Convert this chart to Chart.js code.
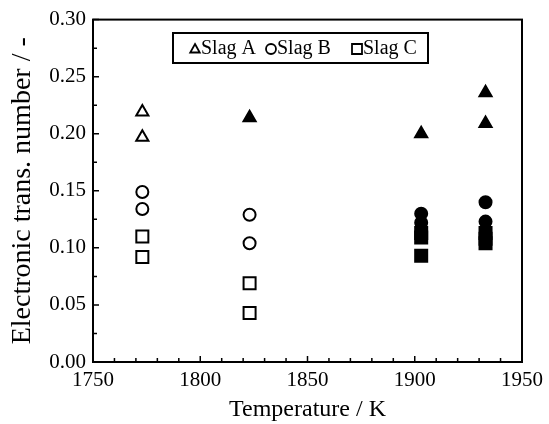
<!DOCTYPE html>
<html>
<head>
<meta charset="utf-8">
<script src="https://cdn.jsdelivr.net/npm/chart.js@4/dist/chart.umd.min.js"></script>
<style>
  html, body { margin: 0; padding: 0; background: #fff; }
</style>
</head>
<body>
<canvas id="chart" width="549" height="424"></canvas>
<script>
// values
const slagATemp = [1773, 1773, 1823, 1903, 1933, 1933];
const slagA = [0.219, 0.197, 0.214, 0.200, 0.236, 0.209];
const slagAFilled = [false, false, true, true, true, true];

const slagBTemp = [1773, 1773, 1823, 1823, 1903, 1903, 1933, 1933];
const slagB = [0.149, 0.134, 0.129, 0.104, 0.130, 0.122, 0.140, 0.123];
const slagBFilled = [false, false, false, false, true, true, true, true];

const slagCTemp = [1773, 1773, 1823, 1823, 1903, 1903, 1903, 1933, 1933, 1933];
const slagC = [0.110, 0.092, 0.069, 0.043, 0.113, 0.109, 0.093, 0.113, 0.108, 0.104];
const slagCFilled = [false, false, false, false, true, true, true, true, true, true];

const seriesNames = ['Slag A', 'Slag B', 'Slag C'];
const seriesStyles = ['triangle', 'circle', 'rect'];

const xMinorTicks = [];
for (let t = 1760; t < 1950; t += 10) xMinorTicks.push(t);
const yMinorTicks = [];
for (let v = 0.025; v < 0.3; v += 0.05) yMinorTicks.push(v);

const serif = '"Liberation Serif", "Times New Roman", serif';

const toPoints = (xs, ys) => xs.map((x, i) => ({ x: x, y: ys[i] }));
const fills = (flags) => flags.map(f => (f ? '#000' : '#fff'));

// draws the closed frame with inward ticks
const frameTicks = {
  id: 'frameTicks',
  afterDraw(chart) {
    const ctx = chart.ctx;
    const a = chart.chartArea;
    const xs = chart.scales.x;
    const ys = chart.scales.y;
    ctx.save();
    ctx.strokeStyle = '#000';
    ctx.lineWidth = 1.5;
    ctx.beginPath();
    xs.ticks.forEach(t => {
      const px = xs.getPixelForValue(t.value);
      ctx.moveTo(px, a.bottom);
      ctx.lineTo(px, a.bottom - 6);
    });
    xMinorTicks.forEach(v => {
      const px = xs.getPixelForValue(v);
      ctx.moveTo(px, a.bottom);
      ctx.lineTo(px, a.bottom - 4);
    });
    ys.ticks.forEach(t => {
      const py = ys.getPixelForValue(t.value);
      ctx.moveTo(a.left, py);
      ctx.lineTo(a.left + 6, py);
    });
    yMinorTicks.forEach(v => {
      const py = ys.getPixelForValue(v);
      ctx.moveTo(a.left, py);
      ctx.lineTo(a.left + 4, py);
    });
    ctx.stroke();
    ctx.lineWidth = 2;
    ctx.strokeRect(a.left, a.top, a.right - a.left, a.bottom - a.top);
    ctx.restore();
  }
};

function drawMarker(ctx, style, x, y, r) {
  ctx.beginPath();
  if (style === 'triangle') {
    ctx.moveTo(x, y - r);
    ctx.lineTo(x + r * 0.95, y + r * 0.7);
    ctx.lineTo(x - r * 0.95, y + r * 0.7);
    ctx.closePath();
  } else if (style === 'circle') {
    ctx.arc(x, y, r, 0, Math.PI * 2);
  } else {
    ctx.rect(x - r, y - r, 2 * r, 2 * r);
  }
  ctx.stroke();
}

// boxed legend inside the plot
const boxLegend = {
  id: 'boxLegend',
  afterDraw(chart) {
    const ctx = chart.ctx;
    const box = { left: 173, top: 33, width: 255, height: 30 };
    const markerX = [195, 271, 357];
    const textX = [201, 277, 363];
    const midY = box.top + box.height / 2;
    ctx.save();
    ctx.strokeStyle = '#000';
    ctx.lineWidth = 2;
    ctx.strokeRect(box.left, box.top, box.width, box.height);
    ctx.lineWidth = 1.8;
    ctx.fillStyle = '#000';
    ctx.font = '20px ' + serif;
    ctx.textBaseline = 'middle';
    seriesNames.forEach((name, i) => {
      drawMarker(ctx, seriesStyles[i], markerX[i], midY + 1, 5);
      ctx.fillText(name, textX[i], midY + 1);
    });
    ctx.restore();
  }
};

new Chart(document.getElementById('chart'), {
  type: 'scatter',
  data: {
    datasets: [
      {
        label: seriesNames[0],
        data: toPoints(slagATemp, slagA),
        pointStyle: 'triangle',
        pointRadius: 7,
        pointBorderWidth: 2,
        borderColor: '#000',
        pointBackgroundColor: fills(slagAFilled),
      },
      {
        label: seriesNames[1],
        data: toPoints(slagBTemp, slagB),
        pointStyle: 'circle',
        pointRadius: 6,
        pointBorderWidth: 2,
        borderColor: '#000',
        pointBackgroundColor: fills(slagBFilled),
      },
      {
        label: seriesNames[2],
        data: toPoints(slagCTemp, slagC),
        pointStyle: 'rect',
        pointRadius: 8.5,
        pointBorderWidth: 2,
        borderColor: '#000',
        pointBackgroundColor: fills(slagCFilled),
      },
    ],
  },
  options: {
    responsive: false,
    animation: false,
    devicePixelRatio: 1,
    layout: { padding: { top: 18, right: 27, left: 0, bottom: 0 } },
    plugins: {
      legend: { display: false },
      tooltip: { enabled: false },
    },
    scales: {
      x: {
        type: 'linear',
        min: 1750,
        max: 1950,
        ticks: {
          stepSize: 50,
          color: '#000',
          padding: 6,
          maxRotation: 0,
          font: { family: serif, size: 21 },
          callback: (v) => String(v),
        },
        grid: { display: false, drawTicks: false },
        border: { display: false },
        title: {
          display: true,
          text: 'Temperature / K',
          color: '#000',
          font: { family: serif, size: 24 },
          padding: { top: 0, bottom: 0 },
        },
        afterFit: (s) => { s.height = 62; },
      },
      y: {
        min: 0,
        max: 0.3,
        ticks: {
          stepSize: 0.05,
          color: '#000',
          padding: 7,
          font: { family: serif, size: 21 },
          callback: (v) => v.toFixed(2),
        },
        grid: { display: false, drawTicks: false },
        border: { display: false },
        title: {
          display: true,
          text: 'Electronic trans. number / -',
          color: '#000',
          font: { family: serif, size: 28 },
          padding: { top: 6, bottom: 0 },
        },
        afterFit: (s) => { s.width = 93; },
      },
    },
  },
  plugins: [frameTicks, boxLegend],
});
</script>
</body>
</html>
